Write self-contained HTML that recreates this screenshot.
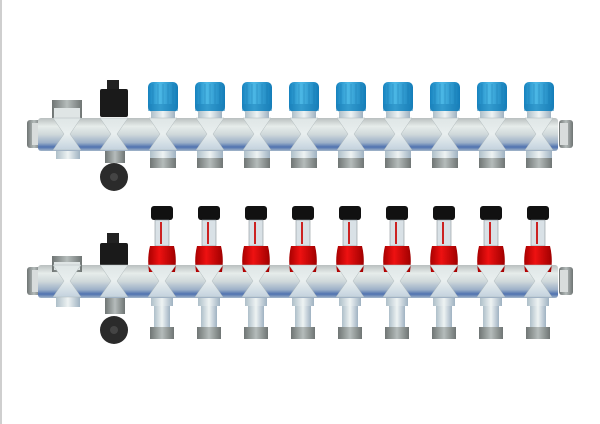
<!DOCTYPE html>
<html><head><style>html,body{margin:0;padding:0;background:#fff;}svg{display:block}</style></head><body>
<svg width="600" height="424" viewBox="0 0 600 424" xmlns="http://www.w3.org/2000/svg">
<defs>
<linearGradient id="pipe" x1="0" y1="0" x2="0" y2="1">
<stop offset="0" stop-color="#b9bfbf"/><stop offset="0.25" stop-color="#e6ecea"/><stop offset="0.5" stop-color="#cfd8da"/><stop offset="0.75" stop-color="#9cb0c8"/><stop offset="0.88" stop-color="#4f72b0"/><stop offset="1" stop-color="#a4b6c9"/>
</linearGradient>
<linearGradient id="blue" x1="0" y1="0" x2="1" y2="0">
<stop offset="0" stop-color="#1682be"/><stop offset="0.4" stop-color="#4cb8e6"/><stop offset="1" stop-color="#137cb8"/>
</linearGradient>
<linearGradient id="red" x1="0" y1="0" x2="1" y2="0">
<stop offset="0" stop-color="#a80000"/><stop offset="0.4" stop-color="#ee1111"/><stop offset="1" stop-color="#a00000"/>
</linearGradient>
<linearGradient id="nut" x1="0" y1="0" x2="1" y2="0">
<stop offset="0" stop-color="#6f7574"/><stop offset="0.5" stop-color="#b5bcbb"/><stop offset="1" stop-color="#6f7574"/>
</linearGradient>
<linearGradient id="neck" x1="0" y1="0" x2="1" y2="0">
<stop offset="0" stop-color="#aebfc9"/><stop offset="0.5" stop-color="#eef3f3"/><stop offset="1" stop-color="#9fb2c2"/>
</linearGradient>
<linearGradient id="xj" x1="0" y1="0" x2="0" y2="1">
<stop offset="0" stop-color="#dfe6e6"/><stop offset="0.5" stop-color="#e9efef"/><stop offset="1" stop-color="#c3d2de"/>
</linearGradient>
<g id="xjoint">
<path d="M-14,0 L14,0 L3,16 L14,32 L-14,32 L-3,16 Z" fill="url(#xj)" stroke="#b0babc" stroke-width="0.5"/>
</g>
</defs>
<rect x="0" y="0" width="2" height="424" fill="#cfcfcf"/>

<!-- TOP MANIFOLD -->
<g>
<rect x="27" y="120" width="14" height="28" rx="3" fill="url(#nut)"/>
<rect x="32" y="123" width="8" height="22" fill="#d8dcdc"/>
<rect x="559" y="120" width="14" height="28" rx="3" fill="url(#nut)"/>
<rect x="560" y="123" width="8" height="22" fill="#d8dcdc"/>
<rect x="38" y="118" width="520" height="33" rx="3" fill="url(#pipe)"/>
<rect x="52" y="100" width="30" height="18" fill="url(#nut)"/>
<rect x="54" y="108" width="26" height="10" fill="#dfe5e5"/>
<rect x="56" y="151" width="24" height="8" fill="url(#neck)"/>
<use href="#xjoint" x="67" y="118"/>
<rect x="107" y="80" width="12" height="10" fill="#222"/>
<rect x="100" y="89" width="28" height="28" rx="2" fill="#1a1a1a"/>
<use href="#xjoint" x="114" y="118"/>
<rect x="105" y="151" width="20" height="12" fill="url(#nut)"/>
<circle cx="114" cy="177" r="14" fill="#2b2b2b"/>
<circle cx="114" cy="177" r="4" fill="#444"/>
</g>
<g id="outTop">
<rect x="148" y="82" width="30" height="30" rx="5" fill="url(#blue)"/>
<path d="M153,84 V104 M158,84 V104 M163,84 V104 M168,84 V104 M173,84 V104" stroke="#1270a8" stroke-width="0.6" opacity="0.6"/>
<rect x="148" y="104" width="30" height="7" fill="#1b7fb8" opacity="0.5"/>
<rect x="151" y="111" width="24" height="8" fill="url(#neck)"/>
<use href="#xjoint" x="163" y="118"/>
<rect x="150" y="151" width="26" height="8" fill="url(#neck)"/>
<rect x="150" y="158" width="26" height="10" fill="url(#nut)"/>
</g>
<use href="#outTop" x="47"/><use href="#outTop" x="94"/><use href="#outTop" x="141"/><use href="#outTop" x="188"/><use href="#outTop" x="235"/><use href="#outTop" x="282"/><use href="#outTop" x="329"/><use href="#outTop" x="376"/>

<!-- BOTTOM MANIFOLD -->
<g>
<rect x="27" y="267" width="14" height="28" rx="3" fill="url(#nut)"/>
<rect x="32" y="270" width="8" height="22" fill="#d8dcdc"/>
<rect x="559" y="267" width="14" height="28" rx="3" fill="url(#nut)"/>
<rect x="560" y="270" width="8" height="22" fill="#d8dcdc"/>
<rect x="38" y="265" width="520" height="33" rx="3" fill="url(#pipe)"/>
<rect x="52" y="256" width="30" height="16" fill="url(#nut)"/>
<rect x="54" y="262" width="26" height="8" fill="#dfe5e5"/>
<rect x="56" y="297" width="24" height="10" fill="url(#neck)"/>
<use href="#xjoint" x="67" y="265"/>
<rect x="107" y="233" width="12" height="10" fill="#222"/>
<rect x="100" y="243" width="28" height="23" rx="2" fill="#1a1a1a"/>
<use href="#xjoint" x="114" y="265"/>
<rect x="105" y="298" width="20" height="16" fill="url(#nut)"/>
<circle cx="114" cy="330" r="14" fill="#2b2b2b"/>
<circle cx="114" cy="330" r="4" fill="#444"/>
</g>
<g id="outBot">
<rect x="151" y="206" width="22" height="14" rx="3" fill="#111"/>
<rect x="155" y="220" width="14" height="26" fill="#d9e1e6" stroke="#8a949a" stroke-width="0.6"/>
<rect x="160" y="222" width="2" height="22" fill="#c22"/>
<path d="M150,246 L174,246 Q177,258 175,272 L149,272 Q147,258 150,246 Z" fill="url(#red)"/>
<use href="#xjoint" x="162" y="265"/>
<rect x="151" y="298" width="22" height="8" fill="url(#neck)"/>
<rect x="154" y="306" width="16" height="22" fill="url(#neck)"/>
<rect x="150" y="327" width="24" height="12" fill="url(#nut)"/>
</g>
<use href="#outBot" x="47"/><use href="#outBot" x="94"/><use href="#outBot" x="141"/><use href="#outBot" x="188"/><use href="#outBot" x="235"/><use href="#outBot" x="282"/><use href="#outBot" x="329"/><use href="#outBot" x="376"/>
</svg>
</body></html>
